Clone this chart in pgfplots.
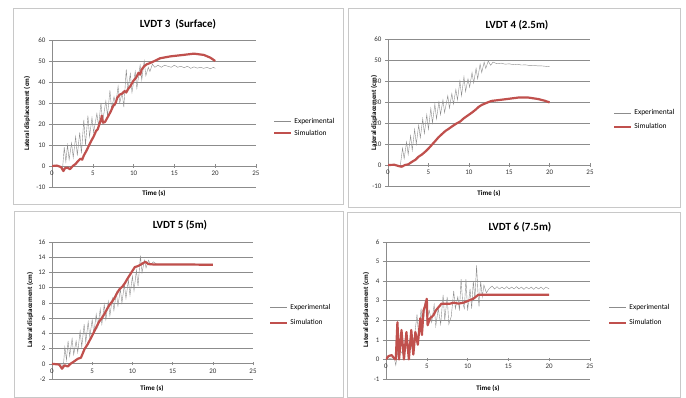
\documentclass[border=0pt]{standalone}
\usepackage{pgfplots}
\pgfplotsset{compat=1.18}
\usepackage{fontspec}
\setmainfont{Carlito}
\definecolor{simred}{RGB}{192,80,77}
\definecolor{expgray}{RGB}{140,140,140}
\definecolor{gridc}{RGB}{140,140,140}
\definecolor{framec}{RGB}{200,200,200}
\pgfplotsset{
  panel/.style={
    scale only axis,
    xmin=0, xmax=25,
    axis x line=middle, axis y line=left,
    axis line style={-, draw=gridc, line width=0.6bp},
    hide obscured x ticks=false, hide obscured y ticks=false,
    xtick={0,5,...,25},
    ymajorgrids, grid style={gridc, line width=0.6bp},
    xtick align=center, ytick align=outside,
    major tick length=3bp,
    tick style={gridc, line width=0.5bp},
    /pgf/number format/assume math mode=true,
    ticklabel style={font=\fontsize{7}{8}\selectfont, text=black!80},
    legend cell align=left,
    legend style={draw=none, fill=none, font=\fontsize{7.5}{8}\selectfont, anchor=west, inner sep=0pt},
    legend image code/.code={\draw[##1] (0bp,0bp) -- (17bp,0bp);},
  },
  exp/.style={expgray, line width=0.4bp, mark=none},
  sim/.style={simred, line width=2.2bp, mark=none, line join=round},
}
\begin{document}
\begin{tikzpicture}
\useasboundingbox (0bp,0bp) rectangle (686bp,398bp);
\fill[white] (0bp,0bp) rectangle (686bp,398bp);
\begin{scope}[x=1bp,y=1bp]
\draw[framec, line width=0.8bp] (13,390) rectangle (343,194);
\draw[framec, line width=0.8bp] (348,390) rectangle (680,191);
\draw[framec, line width=0.8bp] (14,187) rectangle (343,0.5);
\draw[framec, line width=0.8bp] (347,186) rectangle (680,0.5);
\node[font=\bfseries\fontsize{11}{12}\selectfont] at (178,374) {LVDT 3\ \ (Surface)};
\node[font=\bfseries\fontsize{11}{12}\selectfont] at (517,373) {LVDT 4 (2.5m)};
\node[font=\bfseries\fontsize{11}{12}\selectfont] at (180,173) {LVDT 5 (5m)};
\node[font=\bfseries\fontsize{11}{12}\selectfont] at (520,171) {LVDT 6 (7.5m)};
\begin{scope}[every node/.style={font=\bfseries\fontsize{7}{8}\selectfont}]
\node at (154,205) {Time (s)};
\node at (489,205) {Time (s)};
\node at (152,10) {Time (s)};
\node at (488,10) {Time (s)};
\node[rotate=90] at (27,284.5) {Lateral displacement (cm)};
\node[rotate=90] at (374,285) {Lateral displacement (cm)};
\node[rotate=90] at (30,88) {Lateral displacement (cm)};
\node[rotate=90] at (366,88) {Lateral displacement (cm)};
\end{scope}
\coordinate (p1) at (52,211);
\coordinate (p2) at (388,212);
\coordinate (p3) at (52,19);
\coordinate (p4) at (386,19);
\end{scope}

% Panel 1
\begin{axis}[panel, at={(p1)}, anchor=south west, width=204bp, height=147bp,
  ymin=-10, ymax=60, ytick={-10,0,...,60},
  legend style={at={(1,0.405)}, xshift=17bp, row sep=1bp}]
\addplot[exp] coordinates {(0,0)(1,0)(1.3,-1)(1.5,9)(1.7,2)(1.9,10)(2.1,3)(2.4,11)(2.6,4)(2.9,14)(3.1,5)(3.4,16)(3.6,6)(3.9,22)(4.1,10)(4.4,24)(4.6,14)(4.9,23)(5.1,16)(5.5,25)(5.7,19)(6.0,30)(6.2,21)(6.6,31)(6.8,24)(7.1,36)(7.3,27)(7.6,33)(7.8,29)(8.1,38)(8.3,30)(8.6,35)(8.8,28)(9.1,46)(9.3,36)(9.6,44)(9.8,35)(10.2,45)(10.4,37)(10.8,48)(11.0,41)(11.3,50)(11.5,43)(11.8,47)(12.0,45)(12.3,48.5)(12.6,47)(13,48)(13.4,47)(13.8,48)(14.2,47.5)(14.6,47)(15,48)(15.4,47)(15.8,47.5)(16.2,46.8)(16.6,47.5)(17,46.5)(17.4,47.2)(17.8,46.6)(18.2,47)(18.6,46.5)(19,47)(19.4,46.3)(19.8,47)(20,46.5)};
\addlegendentry{Experimental}
\addplot[sim] coordinates {(0,0)(0.6,0.2)(1.1,-0.5)(1.4,-2.4)(1.6,-1)(1.9,-0.8)(2.2,-1.5)(2.55,0)(2.9,1)(3.2,2.4)(3.5,3.5)(3.7,3)(3.9,5)(4.2,7.1)(4.5,9.5)(4.8,11.9)(5.1,14)(5.4,16.7)(5.6,17.5)(5.8,19.8)(6.05,22.7)(6.1,24)(6.25,20.6)(6.5,21)(6.9,23.8)(7.2,26)(7.5,28.6)(7.8,30)(8.0,32.5)(8.3,34)(8.6,34.5)(8.9,35.7)(9.1,35)(9.3,36.5)(9.6,38)(9.96,40.5)(10.3,42)(10.6,44.4)(10.8,43.5)(11,46)(11.3,47.5)(11.6,48.4)(12,49)(12.4,49.7)(13.25,51.3)(14.5,52.2)(16.1,52.9)(17.4,53.5)(18.6,52.9)(19.4,51.6)(20,50)};
\addlegendentry{Simulation}
\end{axis}

% Panel 2
\begin{axis}[panel, at={(p2)}, anchor=south west, width=202bp, height=147bp,
  ymin=-10, ymax=60, ytick={-10,0,...,60},
  legend style={at={(1,0.45)}, xshift=23bp, row sep=3bp}]
\addplot[exp] coordinates {(0,0)(1.2,0)(1.5,-1)(1.8,8)(2.0,3)(2.3,11)(2.5,5)(2.8,14)(3.0,7)(3.3,17)(3.5,10)(3.8,19)(4.0,13)(4.3,22)(4.5,15)(4.8,24)(5.0,17)(5.3,27)(5.5,20)(5.8,29)(6.0,22)(6.3,30)(6.5,24)(6.8,31)(7.0,25)(7.4,33)(7.6,27)(7.9,34)(8.1,29)(8.4,36)(8.6,31)(8.9,40)(9.1,33)(9.4,42)(9.6,35)(9.9,41)(10.1,37)(10.4,44)(10.6,39)(10.9,46)(11.1,41)(11.4,48)(11.6,44)(11.9,49)(12.1,46)(12.4,49.5)(12.7,47.5)(13.0,49)(13.5,48.2)(14,48.5)(14.5,48)(15,48.2)(15.5,47.8)(16,48)(16.5,47.6)(17,47.7)(17.5,47.4)(18,47.5)(18.5,47.2)(19,47.2)(19.5,47)(20,46.8)};
\addlegendentry{Experimental}
\addplot[sim] coordinates {(0,0)(0.8,0.1)(1.3,-0.5)(1.7,-0.8)(2.1,0)(2.5,0.3)(3.0,1.6)(3.4,2.5)(3.8,4)(4.2,5)(4.6,6.3)(5.0,7.8)(5.4,9.5)(5.8,11.2)(6.25,13.2)(6.7,14.8)(7.1,16.2)(7.5,17.2)(7.9,18.3)(8.4,19.6)(8.9,20.6)(9.4,22.3)(9.96,23.8)(10.4,25)(10.8,26.2)(11.2,27.6)(11.6,28.6)(12.2,29.6)(12.8,30.5)(14.5,31.3)(16.1,32.1)(17.4,32.1)(18.6,31.4)(19.4,30.6)(20,29.8)};
\addlegendentry{Simulation}
\end{axis}

% Panel 3
\begin{axis}[panel, at={(p3)}, anchor=south west, width=201bp, height=137bp,
  ymin=-2, ymax=16, ytick={-2,0,...,16},
  legend style={at={(1,0.467)}, xshift=16bp, row sep=5bp}]
\addplot[exp] coordinates {(0,0)(1.2,0)(1.4,-0.5)(1.6,2.2)(1.8,0.5)(2.0,3.0)(2.2,1)(2.5,3.3)(2.7,1.2)(3.0,3.0)(3.2,1.5)(3.5,4.3)(3.7,2.2)(4.0,5.2)(4.2,2.8)(4.5,5.5)(4.7,3.5)(5.0,5.8)(5.2,4.0)(5.5,6.5)(5.7,4.8)(6.0,7.2)(6.2,5.2)(6.5,7.8)(6.7,5.8)(7.0,8.2)(7.2,6.3)(7.5,8.6)(7.7,7.0)(8.0,9.4)(8.2,7.6)(8.5,9.8)(8.7,8.0)(9.0,10.4)(9.2,8.6)(9.5,11)(9.7,9.0)(10.0,11.5)(10.2,9.6)(10.5,12.3)(10.7,10.2)(11.0,14.2)(11.2,12.0)(11.5,13.6)(11.7,12.6)(12.0,13.6)(12.3,13.0)(12.6,13.4)(13,13.1)(20,13.1)};
\addlegendentry{Experimental}
\addplot[sim] coordinates {(0,0)(0.9,-0.1)(1.25,-0.65)(1.55,-0.2)(1.96,-0.35)(2.3,0)(2.6,0.2)(3.2,0.65)(3.6,0.8)(3.8,1.3)(4.05,1.95)(4.4,2.5)(4.7,3.1)(5.0,3.7)(5.3,4.35)(5.6,5)(5.9,5.6)(6.2,6.0)(6.55,6.6)(6.9,7.3)(7.2,7.8)(7.5,8.2)(7.8,8.7)(8.1,9.3)(8.4,9.8)(8.8,10.2)(9.1,10.65)(9.4,11.2)(9.7,11.7)(10.0,12.2)(10.3,12.7)(10.6,12.8)(10.9,12.95)(11.3,13.2)(11.6,13.4)(12,13.1)(12.6,13.05)(16.4,13.05)(20,13.0)};
\addlegendentry{Simulation}
\end{axis}

% Panel 4
\begin{axis}[panel, at={(p4)}, anchor=south west, width=204bp, height=137bp,
  ymin=-1, ymax=6, ytick={-1,0,...,6},
  legend style={at={(1,0.467)}, xshift=18bp, row sep=5bp}]
\addplot[exp] coordinates {(0,0)(1,0.1)(1.2,-0.3)(1.5,0.6)(2,0.3)(2.5,0.8)(3,0.5)(3.5,1.2)(3.8,2.3)(4.0,1.2)(4.3,2.6)(4.5,1.5)(4.8,3.0)(5.0,2.0)(5.3,2.5)(5.6,1.9)(5.9,2.8)(6.1,1.7)(6.4,2.6)(6.7,1.8)(7.0,3.3)(7.2,2.0)(7.5,3.2)(7.7,1.8)(8.0,2.2)(8.3,3.5)(8.5,2.6)(8.8,3.2)(9.0,2.5)(9.2,4.1)(9.4,2.9)(9.6,2.6)(9.8,4.1)(10.0,2.5)(10.3,3.6)(10.5,2.6)(10.7,4.0)(10.9,3.1)(11.1,4.8)(11.3,3.2)(11.4,2.7)(11.6,4.0)(11.8,3.2)(12.0,3.8)(12.3,3.4)(12.6,3.6)(13,3.75)(13.3,3.6)(13.6,3.72)(13.9,3.6)(14.2,3.7)(14.5,3.6)(14.8,3.72)(15.1,3.6)(15.4,3.7)(15.7,3.6)(16,3.72)(16.3,3.6)(16.6,3.7)(16.9,3.58)(17.2,3.7)(17.5,3.6)(17.8,3.7)(18.1,3.58)(18.4,3.7)(18.7,3.6)(19,3.7)(19.3,3.58)(19.6,3.7)(20,3.6)};
\addlegendentry{Experimental}
\addplot[sim] coordinates {(0,0)(0.3,0.17)(0.7,0.22)(1.0,0.05)(1.2,0)(1.4,1.9)(1.6,0)(1.9,1.5)(2.2,0)(2.5,1.4)(2.8,0)(3.1,1.5)(3.35,0.25)(3.6,1.4)(3.9,0.75)(4.2,2.1)(4.4,1.25)(4.6,2.5)(4.8,2.75)(5.0,3.1)(5.1,1.75)(5.4,2.1)(5.8,2.25)(6.1,2.5)(6.4,2.65)(6.8,2.85)(7.2,2.85)(7.85,2.85)(8.3,2.9)(8.9,2.85)(9.5,2.9)(10.1,3.0)(10.7,3.1)(11.3,3.3)(11.9,3.3)(20,3.3)};
\addlegendentry{Simulation}
\end{axis}
\end{tikzpicture}
\end{document}
